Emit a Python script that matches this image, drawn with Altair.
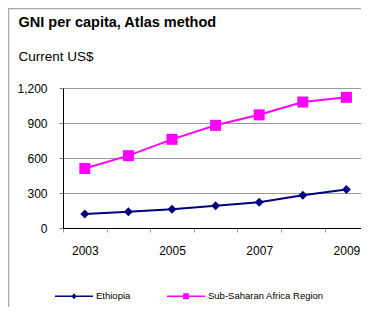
import altair as alt
import pandas as pd

years = ["2003", "2004", "2005", "2006", "2007", "2008", "2009"]
ethiopia = [120, 140, 160, 190, 220, 280, 330]
ssa = [510, 620, 760, 880, 970, 1080, 1120]
series_names = ["Ethiopia", "Sub-Saharan Africa Region"]
series_colors = ["#000080", "#ff00ff"]
y_ticks = [0, 300, 600, 900, 1200]
title_text = "GNI per capita, Atlas method"
subtitle_text = "Current US$"

rows = []
for name, vals in zip(series_names, [ethiopia, ssa]):
    for yr, v in zip(years, vals):
        rows.append({"year": yr, "value": v, "series": name})
df = pd.DataFrame(rows)

FONT = "Arial, Liberation Sans"

# legend glyphs: a short filled bar (the line) plus the marker
eth_path = "M-3.8,-0.16H3.8V0.16H-3.8ZM-0.5,0L0,-0.6L0.5,0L0,0.6Z"
ssa_path = "M-3.8,-0.16H3.8V0.16H-3.8ZM-0.58,-0.58H0.58V0.58H-0.58Z"

legend = alt.Legend(
    title=None,
    orient="none",
    legendX=6,
    legendY=203,
    direction="horizontal",
    symbolSize=100,
    symbolStrokeWidth=0,
    symbolOpacity=1,
    labelOffset=17,
    columnPadding=36,
    labelFont=FONT,
    labelFontSize=9.5,
    labelColor="#000000",
)

color = alt.Color(
    "series:N",
    scale=alt.Scale(domain=series_names, range=series_colors),
    legend=legend,
)

x = alt.X(
    "year:O",
    sort=years,
    scale=alt.Scale(type="band", domain=years, range=[0, 305.2], paddingInner=0, paddingOuter=0),
    axis=alt.Axis(
        title=None,
        tickBand="extent",
        labelExpr="parseInt(datum.label) % 2 == 1 ? datum.label : ''",
        labelAngle=0,
        labelFont=FONT,
        labelFontSize=12,
        labelColor="#000000",
        labelPadding=13.5,
        tickSize=4,
        tickColor="#999999",
        domainColor="#000000",
        domainWidth=1,
        grid=False,
    ),
)

y = alt.Y(
    "value:Q",
    scale=alt.Scale(domain=[0, 1200], nice=False, zero=True),
    axis=alt.Axis(
        title=None,
        values=y_ticks,
        format=",d",
        labelFont=FONT,
        labelFontSize=12,
        labelColor="#000000",
        labelPadding=12,
        tickSize=4,
        tickColor="#808080",
        domainColor="#000000",
        domainWidth=1,
        grid=True,
        gridColor="#999999",
        gridWidth=1,
    ),
)

lines = alt.Chart(df).mark_line(strokeWidth=2).encode(x=x, y=y, color=color)

eth_points = alt.Chart(df).transform_filter(
    alt.datum.series == series_names[0]
).mark_point(filled=True, opacity=1, strokeWidth=0, shape="diamond", size=80, color=series_colors[0]).encode(x=x, y=y)

ssa_points = alt.Chart(df).transform_filter(
    alt.datum.series == series_names[1]
).mark_point(filled=True, opacity=1, strokeWidth=0, shape="square", size=121, color=series_colors[1]).encode(x=x, y=y)

# legend-only layer (no marks drawn): gives the merged color/shape legend
legend_layer = alt.Chart(df).transform_filter("false").mark_point(
    filled=True, opacity=1, strokeWidth=0, size=100
).encode(
    color=color,
    shape=alt.Shape("series:N", scale=alt.Scale(domain=series_names, range=[eth_path, ssa_path]), legend=legend),
)

one = pd.DataFrame({"k": [0]})
left_border = alt.Chart(one).mark_rule(color="#a8a8a8", strokeWidth=1.5).encode(
    x=alt.value(-54.5), y=alt.value(-80), y2=alt.value(219)
)
top_border = alt.Chart(one).mark_rule(color="#a8a8a8", strokeWidth=1.5).encode(
    x=alt.value(-55), x2=alt.value(298), y=alt.value(-79.5)
)

title_mark = alt.Chart(one).mark_text(
    text=title_text, font=FONT, fontSize=14.5, fontWeight="bold", color="#000000",
    align="left", baseline="alphabetic",
).encode(x=alt.value(-44.5), y=alt.value(-61.2))

subtitle_mark = alt.Chart(one).mark_text(
    text=subtitle_text, font=FONT, fontSize=13.5, color="#000000",
    align="left", baseline="alphabetic",
).encode(x=alt.value(-44.5), y=alt.value(-26.6))

chart = alt.layer(
    left_border, top_border, title_mark, subtitle_mark, lines, eth_points, ssa_points, legend_layer
).properties(
    width=298,
    height=140,
    padding={"left": 55, "top": 80, "right": 0, "bottom": 79},
    autosize=alt.AutoSizeParams(type="none"),
).configure_view(stroke=None)

chart.save("out.html", embed_options={"renderer": "svg", "actions": False})
